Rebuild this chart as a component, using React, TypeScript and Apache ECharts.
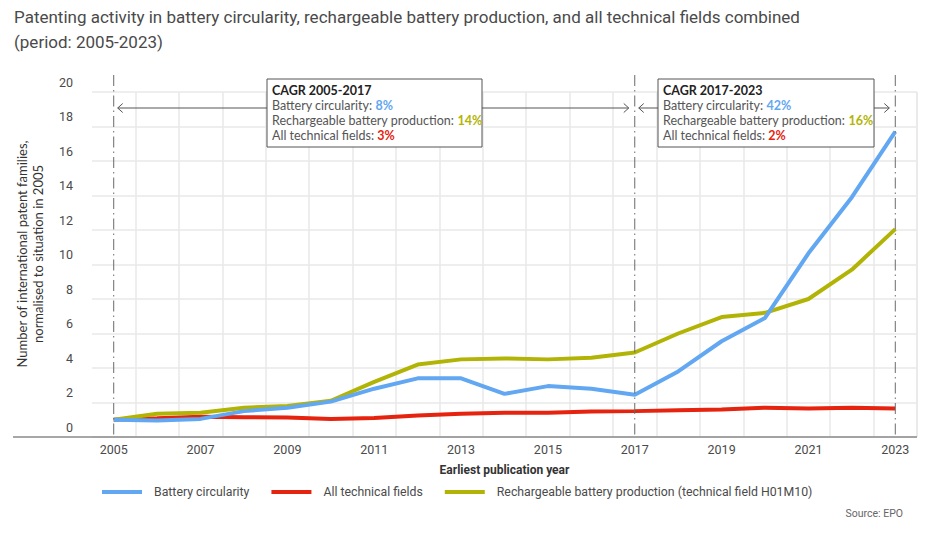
import React, { useEffect, useRef } from "react";
import * as echarts from "echarts";

// Publication years on the x axis
const years = [
  "2005", "2006", "2007", "2008", "2009", "2010", "2011", "2012", "2013", "2014",
  "2015", "2016", "2017", "2018", "2019", "2020", "2021", "2022", "2023",
];

// International patent families, normalised to 2005 = 1
const batteryCircularity = [
  1.0, 0.95, 1.05, 1.5, 1.7, 2.05, 2.8, 3.4, 3.4, 2.5,
  2.95, 2.8, 2.45, 3.8, 5.55, 6.9, 10.65, 13.9, 17.7,
];
const allTechnicalFields = [
  1.0, 1.08, 1.18, 1.15, 1.13, 1.05, 1.1, 1.25, 1.35, 1.4,
  1.4, 1.48, 1.5, 1.55, 1.6, 1.7, 1.65, 1.7, 1.65,
];
const rechargeableProduction = [
  1.0, 1.35, 1.4, 1.7, 1.8, 2.1, 3.2, 4.2, 4.5, 4.55,
  4.5, 4.6, 4.9, 6.0, 6.95, 7.2, 8.0, 9.7, 12.05,
];

// Compound annual growth rates shown in the two annotation boxes
const cagrPeriods = ["2005-2017", "2017-2023"];
const cagrBattery = ["8%", "42%"];
const cagrRechargeable = ["14%", "16%"];
const cagrAllFields = ["3%", "2%"];

const seriesNames = [
  "Battery circularity",
  "All technical fields",
  "Rechargeable battery production (technical field H01M10)",
];

const BLUE = "#62a7f2";
const RED = "#e5230f";
const OLIVE = "#b2b405";
const TEXT = "#4a4a4a";
const GRID = "#e8e8e8";
const FONT = "'Roboto', sans-serif";
const BOX_FONT = "'Lato', 'Noto Sans', sans-serif";

export default function App() {
  const ref = useRef<HTMLDivElement>(null);

  useEffect(() => {
    if (!ref.current) return;
    document.body.style.margin = "0";
    const chart = echarts.init(ref.current, undefined, { renderer: "svg" });

    chart.setOption({
      animation: false,
      backgroundColor: "#ffffff",
      grid: {
        left: 92,
        right: 28,
        top: 92,
        bottom: 96,
        containLabel: false,
        outerBoundsMode: "none",
      },
      title: {
        text: "Patenting activity in battery circularity, rechargeable battery production, and all technical fields combined\n(period: 2005-2023)",
        left: 9,
        top: -1,
        textStyle: {
          fontFamily: FONT,
          fontSize: 17,
          fontWeight: "normal",
          color: TEXT,
          lineHeight: 25,
        },
      },
      legend: {
        data: seriesNames,
        left: 97,
        top: 481,
        icon: "rect",
        itemWidth: 40,
        itemHeight: 4,
        itemGap: 22,
        textStyle: {
          fontFamily: FONT,
          fontSize: 12.3,
          color: TEXT,
          padding: [0, 0, 0, 7],
        },
      },
      xAxis: {
        type: "category",
        data: years,
        boundaryGap: true,
        name: "Earliest publication year",
        nameLocation: "middle",
        nameGap: 27,
        nameTextStyle: {
          fontFamily: FONT,
          fontSize: 12,
          fontWeight: "bold",
          color: "#333",
        },
        axisLine: { show: false },
        axisTick: { show: false },
        axisLabel: {
          interval: 1,
          margin: 6,
          fontFamily: FONT,
          fontSize: 12.5,
          color: TEXT,
        },
        splitLine: {
          show: true,
          interval: 0,
          showMinLine: false,
          lineStyle: { color: GRID, width: 1.5 },
        },
      },
      yAxis: {
        type: "value",
        min: 0,
        max: 20,
        interval: 2,
        axisLine: { show: false },
        axisTick: { show: false },
        axisLabel: {
          margin: 19,
          verticalAlign: "bottom",
          lineHeight: 20,
          fontFamily: FONT,
          fontSize: 12.5,
          color: TEXT,
        },
        splitLine: { show: true, lineStyle: { color: GRID, width: 1.5 } },
      },
      series: [
        {
          name: seriesNames[1],
          type: "line",
          data: allTechnicalFields,
          showSymbol: false,
          color: RED,
          lineStyle: { color: RED, width: 4 },
          z: 3,
        },
        {
          name: seriesNames[2],
          type: "line",
          data: rechargeableProduction,
          showSymbol: false,
          color: OLIVE,
          lineStyle: { color: OLIVE, width: 4 },
          z: 4,
        },
        {
          name: seriesNames[0],
          type: "line",
          data: batteryCircularity,
          showSymbol: false,
          color: BLUE,
          lineStyle: { color: BLUE, width: 4 },
          z: 5,
        },
      ],
    });

    // Positions of the period markers, taken from the chart's own scales
    const px = (year: string, v: number) =>
      chart.convertToPixel({ xAxisIndex: 0, yAxisIndex: 0 }, [year, v]) as number[];
    const [x2005, yZero] = px("2005", 0);
    const [x2017] = px("2017", 0);
    const [x2023] = px("2023", 0);
    const gridRight = chart.getWidth() - 28;
    const markerTop = 75;
    const arrowY = 108;

    const dashStyle = {
      stroke: "#6a6a6a",
      lineWidth: 1,
      lineDash: [11, 4, 1.5, 4],
    };
    const plainStroke = { stroke: "#555", lineWidth: 1, fill: "none" };

    const marker = (x: number) => ({
      type: "line",
      shape: { x1: x, y1: markerTop, x2: x, y2: yZero },
      style: dashStyle,
      z: 10,
    });

    const arrow = (from: number, to: number) => {
      const dir = to < from ? 1 : -1;
      return [
        {
          type: "line",
          shape: { x1: from, y1: arrowY, x2: to, y2: arrowY },
          style: plainStroke,
          z: 10,
        },
        {
          type: "polyline",
          shape: {
            points: [
              [to + dir * 5, arrowY - 4.5],
              [to, arrowY],
              [to + dir * 5, arrowY + 4.5],
            ],
          },
          style: plainStroke,
          z: 10,
        },
      ];
    };

    const box = (left: number, width: number, i: number) => [
      {
        type: "rect",
        shape: { x: left, y: 79, width, height: 68 },
        style: { fill: "#ffffff", stroke: "#555", lineWidth: 1 },
        z: 11,
      },
      {
        type: "text",
        x: left + 5,
        y: 83,
        style: {
          text:
            `{h|CAGR ${cagrPeriods[i]}}\n` +
            `{n|Battery circularity: }{b|${cagrBattery[i]}}\n` +
            `{n|Rechargeable battery production: }{o|${cagrRechargeable[i]}}\n` +
            `{n|All technical fields: }{r|${cagrAllFields[i]}}`,
          fontFamily: BOX_FONT,
          fontSize: 12.5,
          lineHeight: 15,
          fill: TEXT,
          rich: {
            h: { fontFamily: BOX_FONT, fontSize: 12.5, fontWeight: "bold", fill: "#222", lineHeight: 15 },
            n: { fontFamily: BOX_FONT, fontSize: 12.5, fill: "#555", lineHeight: 15 },
            b: { fontFamily: BOX_FONT, fontSize: 12.5, fontWeight: "bold", fill: BLUE, lineHeight: 15 },
            o: { fontFamily: BOX_FONT, fontSize: 12.5, fontWeight: "bold", fill: OLIVE, lineHeight: 15 },
            r: { fontFamily: BOX_FONT, fontSize: 12.5, fontWeight: "bold", fill: RED, lineHeight: 15 },
          },
        },
        z: 12,
      },
    ];

    const box1Left = 267;
    const box1Right = 482;
    const box2Left = 658;
    const box2Right = 874;

    chart.setOption({
      graphic: [
        // baseline running under the y labels to the right edge of the plot
        {
          type: "line",
          shape: { x1: 13, y1: yZero, x2: gridRight, y2: yZero },
          style: { stroke: "#8a8a8a", lineWidth: 1.5 },
          z: 9,
        },
        {
          type: "line",
          shape: { x1: gridRight, y1: 92, x2: gridRight, y2: yZero },
          style: { stroke: GRID, lineWidth: 1.5 },
          z: 1,
        },
        marker(x2005),
        marker(x2017),
        marker(x2023),
        ...arrow(box1Left, x2005 + 4),
        ...arrow(box1Right, x2017 - 6),
        ...arrow(box2Left, x2017 + 4),
        ...arrow(box2Right, x2023 - 6),
        ...box(box1Left, box1Right - box1Left, 0),
        ...box(box2Left, box2Right - box2Left, 1),
        {
          type: "text",
          x: 30,
          y: 254,
          rotation: Math.PI / 2,
          style: {
            text: "Number of international patent families,\nnormalised to situation in 2005",
            fontFamily: BOX_FONT,
            fontSize: 13,
            lineHeight: 16,
            fill: "#333",
            align: "center",
            verticalAlign: "middle",
          },
        },
        {
          type: "text",
          right: 42,
          top: 508,
          style: {
            text: "Source: EPO",
            fontFamily: FONT,
            fontSize: 10.5,
            fill: "#666",
          },
        },
      ],
    });

    return () => chart.dispose();
  }, []);

  return <div ref={ref} style={{ width: 945, height: 533 }} />;
}
